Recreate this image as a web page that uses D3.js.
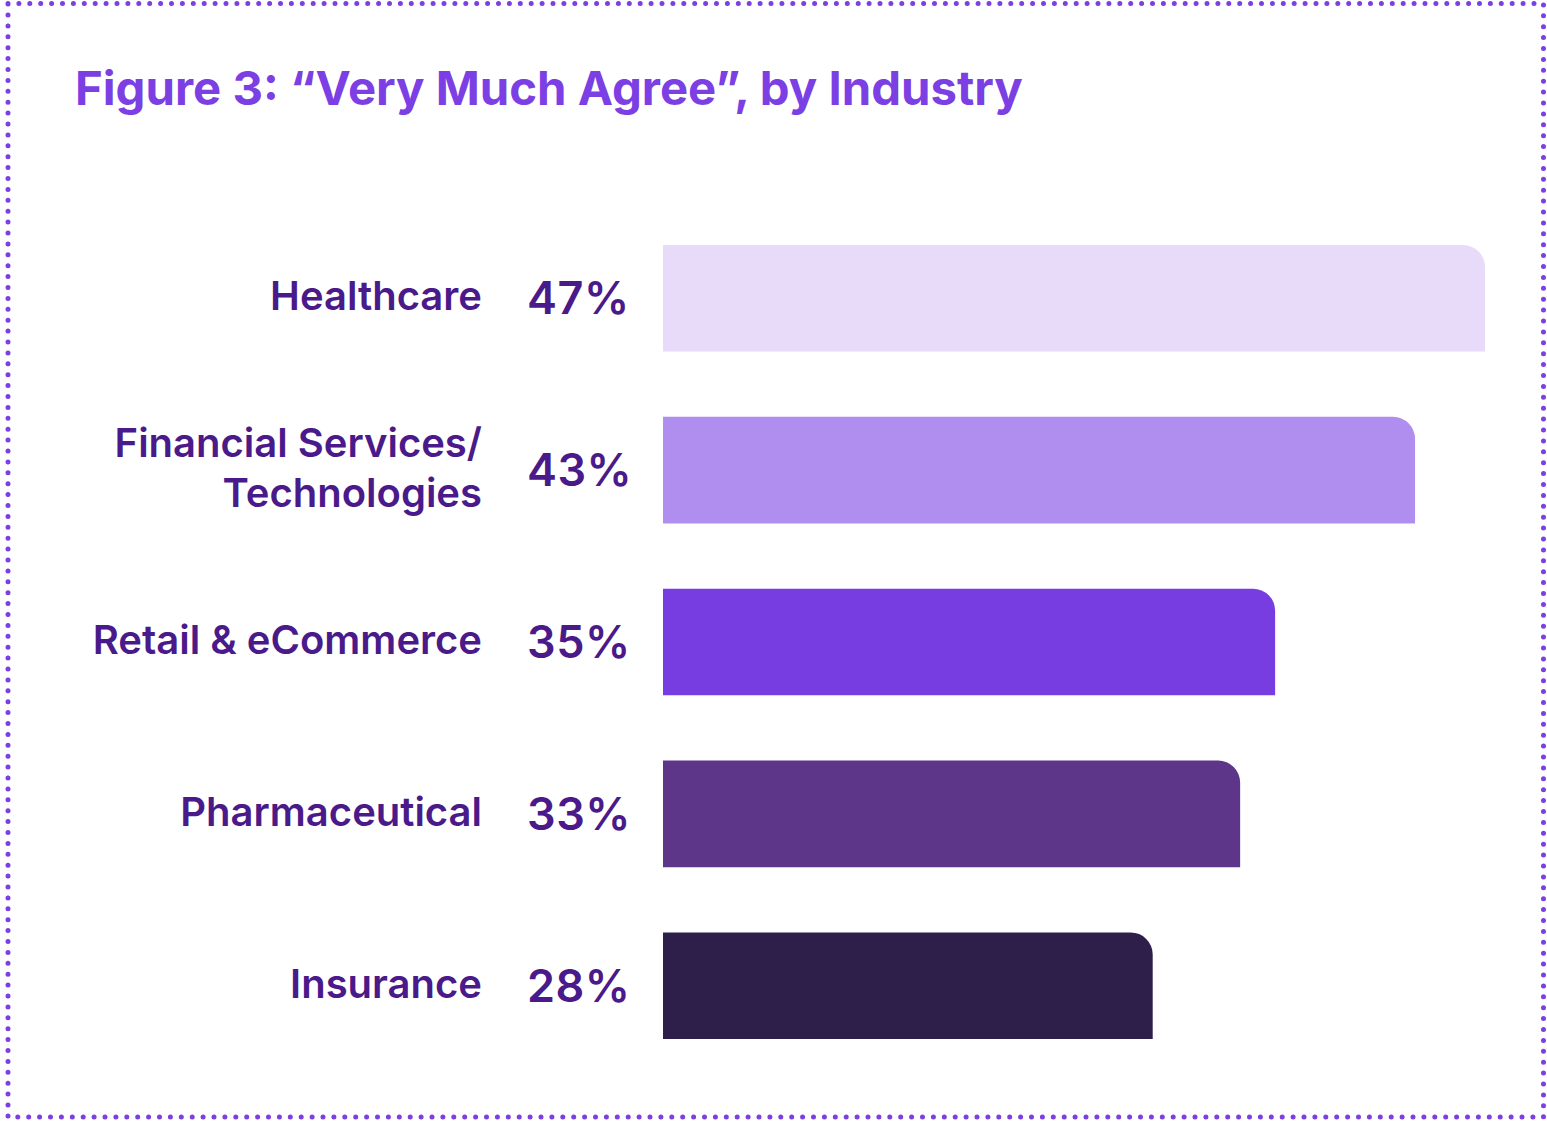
<!DOCTYPE html>
<html>
<head>
<meta charset="utf-8">
<script src="https://cdn.jsdelivr.net/npm/d3@7"></script>
<style>
  html, body { margin: 0; padding: 0; background: #ffffff; }
  svg { display: block; }
</style>
</head>
<body>
<svg id="chart" width="1547" height="1121"></svg>
<script>
// Share of respondents answering "Very Much Agree", per industry
const industries = ["Healthcare", "Financial Services/\nTechnologies", "Retail & eCommerce", "Pharmaceutical", "Insurance"];
const shares = [47, 43, 35, 33, 28];
const barColors = ["#E8DAF9", "#B08EF0", "#783DE0", "#5D3589", "#2E1E4A"];

const svg = d3.select("#chart");

// dotted frame
svg.append("rect")
  .attr("x", 8).attr("y", 3.5)
  .attr("width", 1535.5).attr("height", 1113.5)
  .attr("fill", "none")
  .attr("stroke", "#7B3FE4")
  .attr("stroke-width", 5)
  .attr("stroke-linecap", "round")
  .attr("stroke-dasharray", "0 10.9");

// title
svg.append("text")
  .attr("x", 75).attr("y", 105)
  .attr("font-family", "Inter, 'Noto Sans', sans-serif")
  .attr("font-weight", 700)
  .attr("font-size", 47.3)
  .attr("fill", "#7B3FE4")
  .text("Figure 3: \u201CVery Much Agree\u201D, by Industry");

const x = d3.scaleLinear().domain([0, 47]).range([663, 1485]);
const y = d3.scaleBand().domain(industries).range([245, 1039]).paddingInner(0.38).paddingOuter(0);

const data = industries.map((name, i) => ({ name, value: shares[i], color: barColors[i] }));

// bar with only the top-right corner rounded
function barPath(d) {
  const x0 = x(0), x1 = x(d.value), y0 = y(d.name), y1 = y0 + y.bandwidth();
  const r = 22;
  return `M${x0},${y0}H${x1 - r}A${r},${r} 0 0 1 ${x1},${y0 + r}V${y1}H${x0}Z`;
}

svg.append("g").selectAll("path")
  .data(data).join("path")
  .attr("d", barPath)
  .attr("fill", d => d.color);

// category labels (multi-line names split on \n)
const lab = svg.append("g").selectAll("text")
  .data(data).join("text")
  .attr("x", 482)
  .attr("y", d => y(d.name) + y.bandwidth() / 2)
  .attr("text-anchor", "end")
  .attr("font-family", "Inter, 'Noto Sans', sans-serif")
  .attr("font-weight", 600)
  .attr("font-size", 40)
  .attr("fill", "#4A1A8A");

lab.each(function(d) {
  const lines = d.name.split("\n");
  const lh = 50;
  const start = -(lines.length - 1) * lh / 2;
  d3.select(this).selectAll("tspan")
    .data(lines).join("tspan")
    .attr("x", 482)
    .attr("dy", (l, i) => i === 0 ? start + 12 : lh)
    .text(l => l);
});

// value labels
svg.append("g").selectAll("text")
  .data(data).join("text")
  .attr("x", 527)
  .attr("y", d => y(d.name) + y.bandwidth() / 2 + 16)
  .attr("font-family", "Inter, 'Noto Sans', sans-serif")
  .attr("font-weight", 600)
  .attr("font-size", 45)
  .attr("letter-spacing", 0.5)
  .attr("fill", "#4A1A8A")
  .text(d => d.value + "%");
</script>
</body>
</html>
